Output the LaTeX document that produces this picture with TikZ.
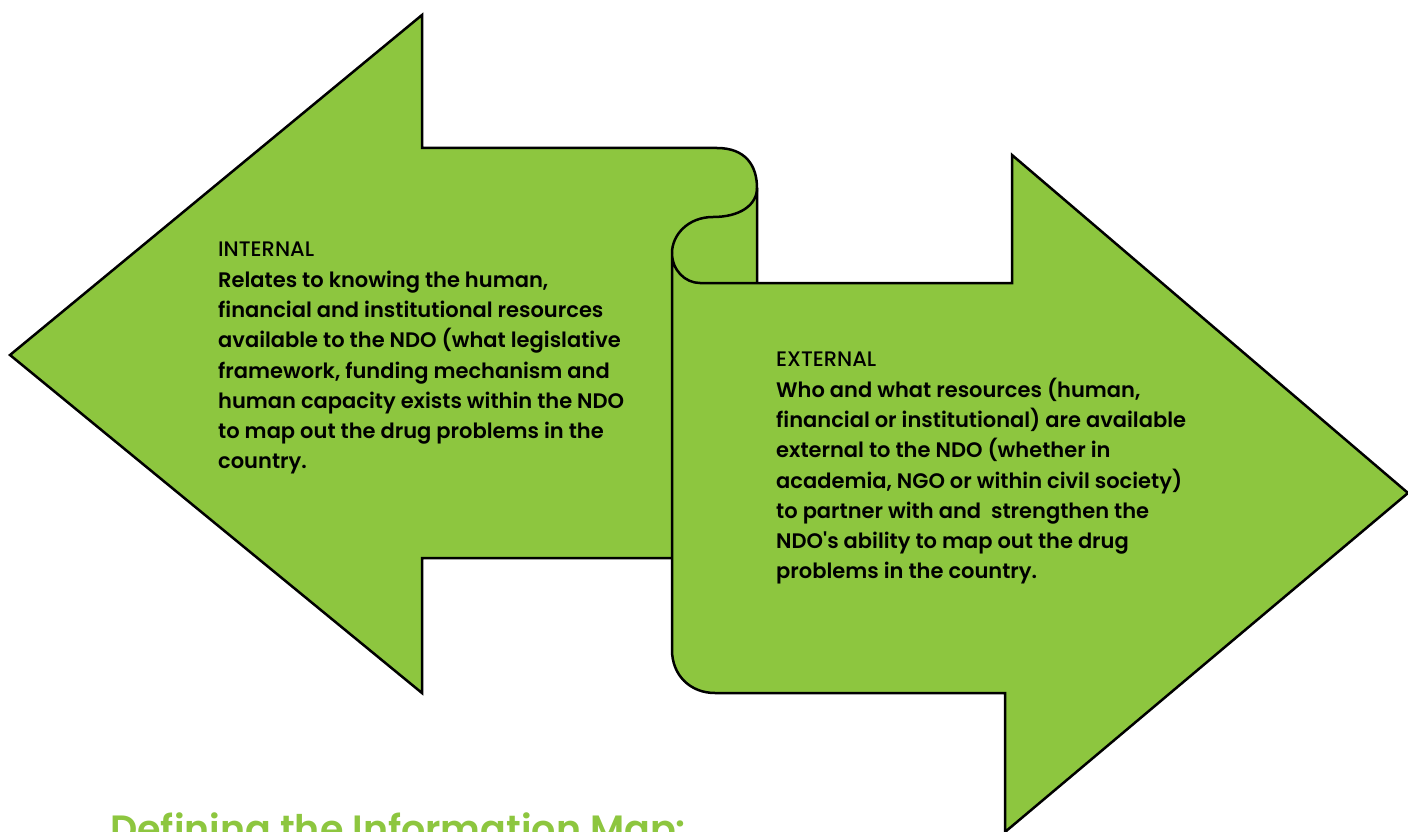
\documentclass[tikz,border=0pt]{standalone}
\usepackage{fontspec}
\setmainfont{Poppins Medium}[Ligatures=TeXOff]
\newfontfamily\bodyfont{Poppins SemiBold}[Ligatures=TeXOff]
\newfontfamily\titlefont{Poppins SemiBold}
\definecolor{leafgreen}{RGB}{141,198,63}
\begin{document}
\begin{tikzpicture}[x=1pt,y=-1pt,
		arrowshape/.style={fill=leafgreen,draw=black,line width=2.5pt,line join=miter},
		blurb/.style={anchor=north west,align=left,inner sep=0pt,font=\fontsize{21}{30.3}\selectfont}]
	\useasboundingbox (0,0) rectangle (1408,832);
	\clip (0,0) rectangle (1408,832);
	% left arrow, its shaft rolls up at the right end
	\draw[arrowshape] (10,355) -- (422,15) -- (422,148) -- (717,148)
		.. controls (745,148) and (757,165) .. (757,188) -- (757,558)
		-- (422,558) -- (422,693) -- cycle;
	% right arrow
	\draw[arrowshape] (672,253) -- (672,650) .. controls (672,675) and (690,693) .. (715,693)
		-- (1005,693) -- (1005,832) -- (1408,493) -- (1012,155) -- (1012,283) -- (700,283)
		.. controls (685,283) and (672,270) .. (672,253);
	% the curl between them
	\draw[line width=2.5pt] (757,188) .. controls (757,205) and (740,217) .. (713,217)
		.. controls (688,217) and (672,235) .. (672,253);
	\node[blurb] (internal) at (218,242) {INTERNAL\\
		\bodyfont Relates to knowing the human,\\
		\bodyfont financial and institutional resources\\
		\bodyfont available to the NDO (what legislative\\
		\bodyfont framework, funding mechanism and\\
		\bodyfont human capacity exists within the NDO\\
		\bodyfont to map out the drug problems in the\\
		\bodyfont country.};
	\node[blurb] (external) at (776,352) {EXTERNAL\\
		\bodyfont Who and what resources (human,\\
		\bodyfont financial or institutional) are available\\
		\bodyfont external to the NDO (whether in\\
		\bodyfont academia, NGO or within civil society)\\
		\bodyfont to partner with and\ \ strengthen the\\
		\bodyfont NDO's ability to map out the drug\\
		\bodyfont problems in the country.};
	\node[anchor=base west,inner sep=0pt,text=leafgreen,font=\fontsize{38}{46}\selectfont\titlefont] (title) at (110,842) {Defining the Information Map:};
\end{tikzpicture}
\end{document}
